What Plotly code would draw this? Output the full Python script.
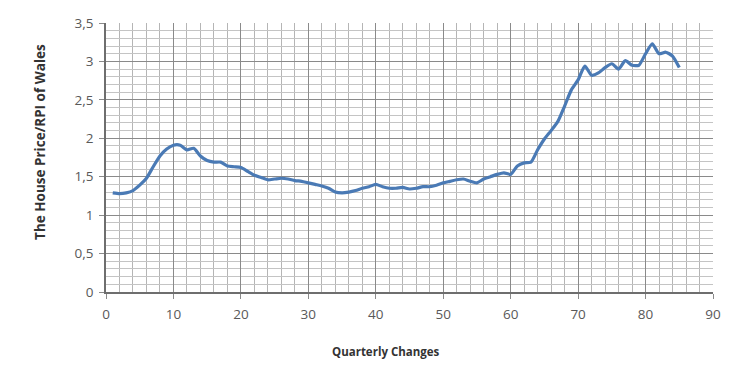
import plotly.graph_objects as go

quarters = list(range(1, 86))
ratio = [
    1.29, 1.28, 1.29, 1.32, 1.39, 1.48, 1.63, 1.77, 1.86, 1.91,
    1.91, 1.85, 1.87, 1.77, 1.71, 1.69, 1.69, 1.64, 1.63, 1.62,
    1.57, 1.52, 1.49, 1.46, 1.47, 1.48, 1.47, 1.45, 1.44, 1.42,
    1.40, 1.38, 1.35, 1.30, 1.29, 1.30, 1.32, 1.35, 1.37, 1.40,
    1.37, 1.35, 1.35, 1.36, 1.34, 1.35, 1.37, 1.37, 1.39, 1.42,
    1.44, 1.46, 1.47, 1.44, 1.42, 1.47, 1.50, 1.53, 1.55, 1.53,
    1.64, 1.68, 1.69, 1.85, 1.99, 2.10, 2.22, 2.42, 2.63, 2.76,
    2.94, 2.82, 2.85, 2.92, 2.97, 2.90, 3.01, 2.95, 2.95, 3.10,
    3.23, 3.10, 3.12, 3.07, 2.92,
]

x_ticks = [0, 10, 20, 30, 40, 50, 60, 70, 80, 90]
y_ticks = [0, 0.5, 1, 1.5, 2, 2.5, 3, 3.5]
y_tick_labels = ["0", "0,5", "1", "1,5", "2", "2,5", "3", "3,5"]

fig = go.Figure()
fig.add_trace(go.Scatter(
    x=quarters, y=ratio, mode="lines",
    line=dict(color="#4a7ab5", width=3.2, shape="spline", smoothing=0.6),
    showlegend=False,
))

font_fam = "Open Sans, Liberation Sans, sans-serif"
fig.update_layout(
    width=722, height=377,
    margin=dict(l=98, r=17, t=15, b=93),
    paper_bgcolor="white", plot_bgcolor="white",
    separators=",.",
    font=dict(family=font_fam, size=13, color="#595959"),
    annotations=[
        dict(text="<b>Quarterly Changes</b>", xref="paper", yref="paper",
             x=0.461, y=-0.223, showarrow=False, xanchor="center", yanchor="middle",
             font=dict(size=11.5, color="#333333", family=font_fam)),
        dict(text="<b>The House Price/RPI of Wales</b>", xref="paper", yref="paper",
             x=-0.1087, y=0.558, showarrow=False, xanchor="center", yanchor="middle",
             textangle=-90, font=dict(size=13.5, color="#333333", family=font_fam)),
    ],
)
fig.update_xaxes(
    range=[0, 90], tickvals=x_ticks, ticktext=[str(v) for v in x_ticks],
    showgrid=True, gridcolor="#8a8a8a", gridwidth=1,
    minor=dict(dtick=2, showgrid=True, gridcolor="#b5b5b5", gridwidth=1),
    showline=True, linecolor="#6e6e6e", linewidth=1.5, mirror=False,
    ticks="outside", ticklen=5, tickcolor="#8a8a8a",
    zeroline=False, automargin=False, ticklabelstandoff=4,
    tickfont=dict(size=13.5, color="#595959"),
)
fig.update_yaxes(
    range=[0, 3.5], tickvals=y_ticks, ticktext=y_tick_labels,
    showgrid=True, gridcolor="#8a8a8a", gridwidth=1,
    minor=dict(dtick=0.1, showgrid=True, gridcolor="#c4c4c4", gridwidth=1),
    showline=True, linecolor="#6e6e6e", linewidth=1.5,
    ticks="outside", ticklen=5, tickcolor="#8a8a8a",
    zeroline=False, automargin=False, ticklabelstandoff=3,
    tickfont=dict(size=13.5, color="#595959"),
)

fig.write_html("out.html")
